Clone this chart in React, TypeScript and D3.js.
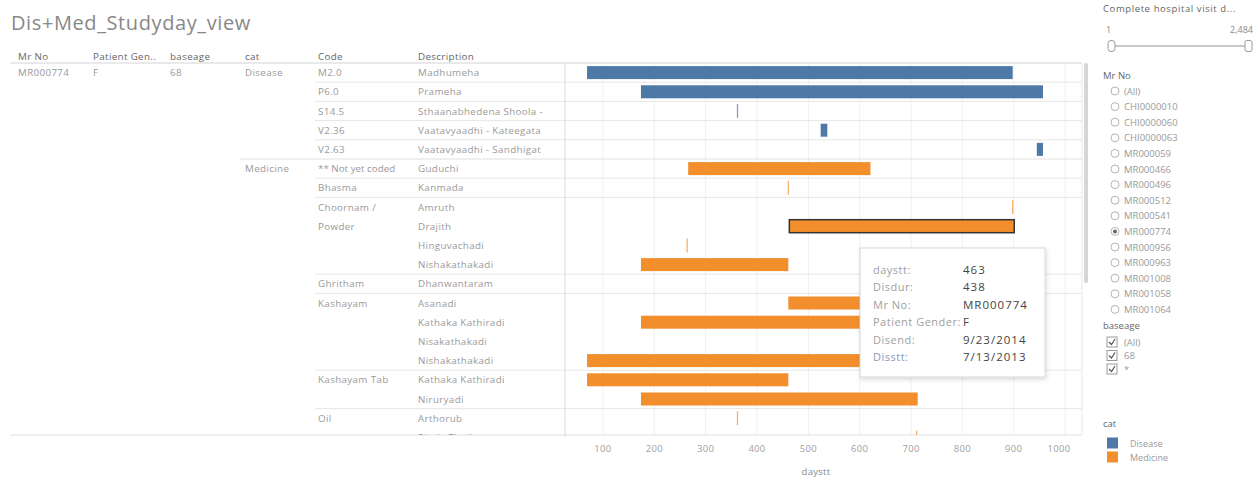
import React from "react";
import * as d3 from "d3";

const rowCats = ["Disease","Disease","Disease","Disease","Disease","Medicine","Medicine","Medicine","Medicine","Medicine","Medicine","Medicine","Medicine","Medicine","Medicine","Medicine","Medicine","Medicine","Medicine","Medicine"];
const rowCodes = ["M2.0","P6.0","S14.5","V2.36","V2.63","** Not yet coded","Bhasma","Choornam / Powder","Choornam / Powder","Choornam / Powder","Choornam / Powder","Ghritham","Kashayam","Kashayam","Kashayam","Kashayam","Kashayam Tab","Kashayam Tab","Oil","Oil"];
const descriptions = ["Madhumeha","Prameha","Sthaanabhedena Shoola -","Vaatavyaadhi - Kateegata","Vaatavyaadhi - Sandhigat","Guduchi","Kanmada","Amruth","Drajith","Hinguvachadi","Nishakathakadi","Dhanwantaram","Asanadi","Kathaka Kathiradi","Nisakathakadi","Nishakathakadi","Kathaka Kathiradi","Niruryadi","Arthorub","Pinda Thailam"];
const dayStart: (number | null)[] = [69, 174, 362, 524, 945, 266, 461, 898, 463, 264, 174, null, 461, 174, null, 69, 69, 174, 362, 711];
const disDur: (number | null)[] = [829, 783, 0, 13, 12, 355, 0, 0, 438, 0, 287, null, 496, 727, null, 832, 392, 539, 0, 0];
const xTicks = [100, 200, 300, 400, 500, 600, 700, 800, 900, 1000];
const mrNos = ["(All)","CHI0000010","CHI0000060","CHI0000063","MR000059","MR000466","MR000496","MR000512","MR000541","MR000774","MR000956","MR000963","MR001008","MR001058","MR001064"];
const baseages = ["(All)","68","*"];
const catNames = ["Disease","Medicine"];
const catColors = ["#4e79a7","#f28e2b"];
const tooltipLabels = ["daystt:","Disdur:","Mr No:","Patient Gender:","Disend:","Disstt:"];
const tooltipValues = ["463","438","MR000774","F","9/23/2014","7/13/2013"];

const FONT = "'Open Sans', 'Noto Sans', sans-serif";

export default function App() {
  const top = 63;
  const rowH = 19.2;
  const plotL = 566;
  const plotR = 1082;
  const plotB = 435;
  const x = d3.scaleLinear().domain([28, 1033]).range([plotL, plotR]);
  const color = d3.scaleOrdinal<string, string>().domain(catNames).range(catColors);
  const rowY = (i: number) => top + rowH * i;

  const codeBounds: number[] = [];
  const catBounds: number[] = [];
  for (let i = 1; i < rowCodes.length; i++) {
    if (rowCats[i] !== rowCats[i - 1]) catBounds.push(i);
    else if (rowCodes[i] !== rowCodes[i - 1]) codeBounds.push(i);
  }
  const firstOf = (arr: string[], i: number) => i === 0 || arr[i] !== arr[i - 1] || (arr === rowCodes && rowCats[i] !== rowCats[i - 1]);

  const textFill = "#9a9a9a";
  const headFill = "#666";
  const fs = 9.8;
  const ls = 0.35;

  return (
    <svg width={1260} height={484} style={{ position: "absolute", left: 0, top: 0, background: "#fff" }} fontFamily={FONT}>
      <defs>
        <clipPath id="plotClip">
          <rect x={0} y={top} width={1100} height={plotB - top} />
        </clipPath>
        <filter id="shadow" x="-10%" y="-10%" width="130%" height="130%">
          <feDropShadow dx="1" dy="2" stdDeviation="2" floodColor="#000" floodOpacity="0.15" />
        </filter>
      </defs>
      <text x={11} y={30} fontSize={20} letterSpacing={0.6} fill="#888">Dis+Med_Studyday_view</text>

      {[["Mr No", 18], ["Patient Gen..", 93], ["baseage", 170], ["cat", 245], ["Code", 318], ["Description", 418]].map(([t, xx]) => (
        <text key={t as string} x={xx as number} y={60} fontSize={fs} letterSpacing={ls} fill={headFill}>{t}</text>
      ))}

      {xTicks.map((t) => (
        <line key={"g" + t} x1={x(t)} x2={x(t)} y1={top} y2={plotB} stroke="#f0f0f0" />
      ))}

      <line x1={10} x2={plotR} y1={top} y2={top} stroke="#d4d4d4" />
      {catBounds.map((i) => (
        <line key={"cb" + i} x1={240} x2={plotR} y1={rowY(i)} y2={rowY(i)} stroke="#e0e0e0" />
      ))}
      {codeBounds.map((i) => (
        <line key={"cd" + i} x1={315} x2={plotR} y1={rowY(i)} y2={rowY(i)} stroke="#e6e6e6" />
      ))}
      <line x1={10} x2={plotR} y1={plotB} y2={plotB} stroke="#e0e0e0" />
      <line x1={plotL - 1} x2={plotL - 1} y1={top} y2={plotB + 2} stroke="#d9d9d9" />
      <line x1={plotR} x2={plotR} y1={top} y2={plotB} stroke="#e6e6e6" />

      <g clipPath="url(#plotClip)">
        <text x={18} y={rowY(0) + rowH / 2 + 3.5} fontSize={fs} letterSpacing={ls} fill={textFill}>MR000774</text>
        <text x={93} y={rowY(0) + rowH / 2 + 3.5} fontSize={fs} letterSpacing={ls} fill={textFill}>F</text>
        <text x={170} y={rowY(0) + rowH / 2 + 3.5} fontSize={fs} letterSpacing={ls} fill={textFill}>68</text>
        {rowCats.map((c, i) => firstOf(rowCats, i) ? (
          <text key={"c" + i} x={245} y={rowY(i) + rowH / 2 + 3.5} fontSize={fs} letterSpacing={ls} fill={textFill}>{c}</text>
        ) : null)}
        {rowCodes.map((c, i) => {
          if (!firstOf(rowCodes, i)) return null;
          const parts = c === "Choornam / Powder" ? ["Choornam /", "Powder"] : [c];
          return parts.map((p, k) => (
            <text key={"cd" + i + k} x={318} y={rowY(i + k) + rowH / 2 + 3.5} fontSize={fs} letterSpacing={c === "** Not yet coded" ? 0 : ls} fill={textFill}>{p}</text>
          ));
        })}
        {descriptions.map((d, i) => (
          <text key={"d" + i} x={418} y={rowY(i) + rowH / 2 + 3.5} fontSize={fs} letterSpacing={ls} fill={textFill}>{d}</text>
        ))}

        {dayStart.map((s, i) => {
          const dur = disDur[i];
          if (s === null || dur === null) return null;
          const col = color(rowCats[i]);
          const cy = rowY(i) + rowH / 2;
          if (dur === 0) {
            return <line key={"b" + i} x1={x(s)} x2={x(s)} y1={cy - 7} y2={cy + 7} stroke={col} strokeWidth={1.3} opacity={0.7} />;
          }
          const sel = descriptions[i] === "Drajith";
          return (
            <rect key={"b" + i} x={x(s)} y={cy - 6.5} width={Math.max(x(s + dur) - x(s), 3)} height={13}
              fill={col} stroke={sel ? "#333" : "none"} strokeWidth={sel ? 1.5 : 0} />
          );
        })}
      </g>

      <rect x={1084} y={top} width={4} height={220} rx={2} fill="#d6d6d6" />

      {xTicks.map((t) => (
        <text key={"t" + t} x={t === 1000 ? x(t) - 6 : x(t)} y={452} fontSize={9.5} letterSpacing={0.3} fill="#a0a0a0" textAnchor="middle">{t}</text>
      ))}
      <text x={(plotL + plotR) / 2 - 8} y={475} fontSize={9.5} letterSpacing={0.3} fill="#888" textAnchor="middle">daystt</text>

      <g>
        <rect x={860} y={248} width={185} height={129} fill="#fff" stroke="#d8d8d8" filter="url(#shadow)" />
        {tooltipLabels.map((l, i) => (
          <text key={"tl" + i} x={873} y={274 + i * 17.4} fontSize={11} letterSpacing={0.5} fill={i === 5 ? "#8a9ab8" : "#a0a0a0"}>{l}</text>
        ))}
        {tooltipValues.map((v, i) => (
          <text key={"tv" + i} x={963} y={274 + i * 17.4} fontSize={11.5} letterSpacing={1} fill="#444">{v}</text>
        ))}
      </g>

      <text x={1103} y={12} fontSize={9.5} letterSpacing={0.6} fill="#666">Complete hospital visit d...</text>
      <text x={1106} y={33} fontSize={9} fill="#888">1</text>
      <text x={1253} y={33} fontSize={9} fill="#888" textAnchor="end">2,484</text>
      <line x1={1113} x2={1249} y1={46} y2={46} stroke="#c8c8c8" strokeWidth={2} />
      <rect x={1108} y={40.5} width={7} height={11} rx={3} fill="#fff" stroke="#999" />
      <rect x={1245} y={40.5} width={7} height={11} rx={2} fill="#fff" stroke="#999" />

      <text x={1103} y={79} fontSize={9.5} fill="#666">Mr No</text>
      {mrNos.map((m, i) => {
        const cy = 91 + i * 15.6;
        const sel = m === "MR000774";
        return (
          <g key={"mr" + i}>
            <circle cx={1115} cy={cy} r={4} fill="#fff" stroke="#b5b5b5" />
            {sel ? <circle cx={1115} cy={cy} r={2} fill="#666" /> : null}
            <text x={1124} y={cy + 3.5} fontSize={9.5} fill="#9a9a9a">{m}</text>
          </g>
        );
      })}

      <text x={1103} y={329} fontSize={9.5} fill="#666">baseage</text>
      {baseages.map((b, i) => {
        const cy = 342 + i * 13.5;
        return (
          <g key={"ba" + i}>
            <rect x={1107} y={cy - 5} width={10} height={10} fill="#fff" stroke="#999" />
            <path d={`M${1109},${cy} L${1111.5},${cy + 2.5} L${1115},${cy - 3}`} fill="none" stroke="#555" strokeWidth={1.2} />
            <text x={1124} y={cy + 3.5} fontSize={9.5} fill="#9a9a9a">{b}</text>
          </g>
        );
      })}

      <text x={1103} y={427} fontSize={9.5} fill="#666">cat</text>
      {catNames.map((c, i) => {
        const cy = 443 + i * 14;
        return (
          <g key={"lg" + i}>
            <rect x={1107} y={cy - 5.5} width={11} height={11} fill={color(c)} />
            <text x={1130} y={cy + 3.5} fontSize={9} fill="#9a9a9a">{c}</text>
          </g>
        );
      })}
    </svg>
  );
}
